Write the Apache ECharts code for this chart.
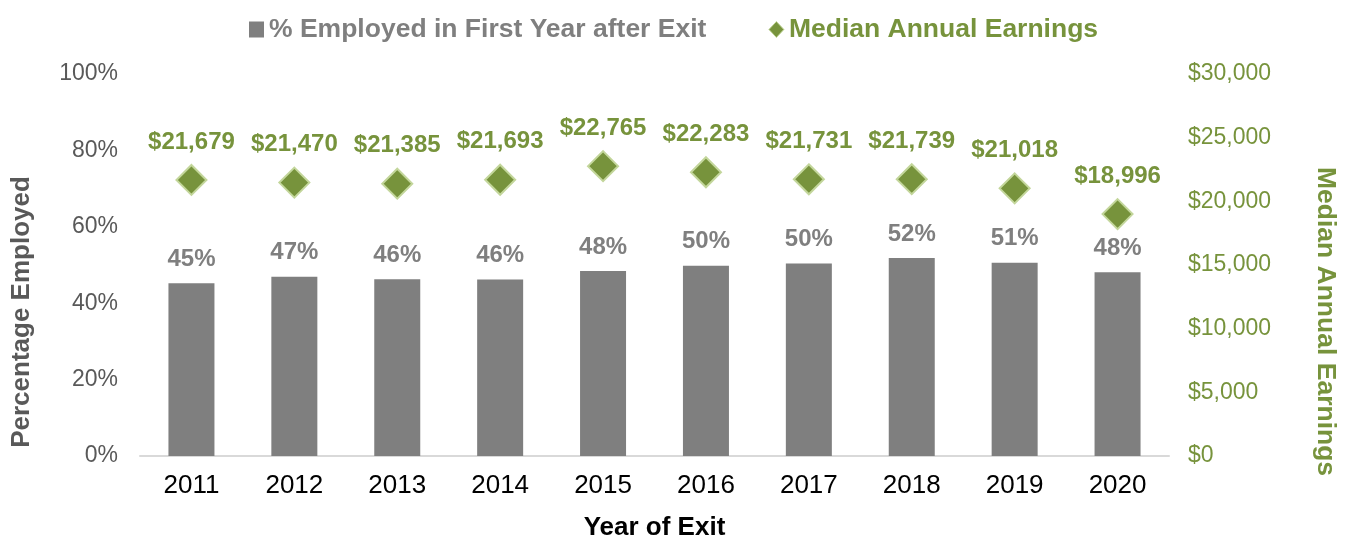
<!DOCTYPE html>
<html>
<head>
<meta charset="utf-8">
<style>
  html, body { margin: 0; padding: 0; background: #fff; }
  #chart { width: 1346px; height: 537px; }
</style>
<script src="https://cdn.jsdelivr.net/npm/echarts@6/dist/echarts.min.js"></script>
</head>
<body>
<div id="chart"></div>
<script>
// data
const years = ['2011', '2012', '2013', '2014', '2015', '2016', '2017', '2018', '2019', '2020'];
const pctEmployed = [45.2, 46.9, 46.3, 46.2, 48.4, 49.8, 50.4, 51.8, 50.6, 48.1];
const medianEarnings = [21679, 21470, 21385, 21693, 22765, 22283, 21731, 21739, 21018, 18996];

const GRAY = '#7f7f7f';
const DARK_GRAY = '#595959';
const GREEN = '#77933C';
const FONT = '"Liberation Sans", Arial, sans-serif';

function money(v) {
    return '$' + Number(v).toLocaleString('en-US');
}

const chart = echarts.init(document.getElementById('chart'));
chart.setOption({
    animation: false,
    textStyle: { fontFamily: FONT },
    legend: {
        left: 244,
        top: 11,
        itemWidth: 15,
        itemHeight: 16,
        itemGap: 62,
        data: [
            { name: '% Employed in First Year after Exit', icon: 'rect',
              textStyle: { color: GRAY } },
            { name: 'Median Annual Earnings', icon: 'diamond',
              itemStyle: { color: GREEN, borderColor: '#C3D69B', borderWidth: 1 },
              textStyle: { color: GREEN } }
        ],
        textStyle: { fontSize: 26.5, fontWeight: 'bold', fontFamily: FONT }
    },
    grid: { left: 140, right: 177, top: 74, bottom: 81, outerBoundsMode: 'none' },
    xAxis: {
        type: 'category',
        data: years,
        axisLine: { lineStyle: { color: '#d9d9d9', width: 2 } },
        axisTick: { show: false },
        axisLabel: { color: '#000', fontSize: 26, margin: 17, fontFamily: FONT },
        name: 'Year of Exit',
        nameLocation: 'middle',
        nameGap: 59,
        nameTextStyle: { color: '#000', fontSize: 26, fontWeight: 'bold', fontFamily: FONT }
    },
    yAxis: [
        {
            type: 'value',
            min: 0, max: 100, interval: 20,
            splitLine: { show: false },
            axisLine: { show: false },
            axisTick: { show: false },
            axisLabel: { formatter: '{value}%', color: DARK_GRAY, fontSize: 23, margin: 22, fontFamily: FONT },
            name: 'Percentage Employed',
            nameLocation: 'middle',
            nameGap: 105,
            nameTextStyle: { color: DARK_GRAY, fontSize: 26, fontWeight: 'bold', fontFamily: FONT,
                             padding: [0, 94, 0, 0] }
        },
        {
            type: 'value',
            min: 0, max: 30000, interval: 5000,
            splitLine: { show: false },
            axisLine: { show: false },
            axisTick: { show: false },
            axisLabel: { formatter: money, color: GREEN, fontSize: 23, margin: 19, fontFamily: FONT },
            name: 'Median Annual Earnings',
            nameLocation: 'middle',
            nameRotate: -90,
            nameGap: 143,
            nameTextStyle: { color: GREEN, fontSize: 26.5, fontWeight: 'bold', fontFamily: FONT,
                             padding: [0, 0, 0, 113] }
        }
    ],
    series: [
        {
            name: '% Employed in First Year after Exit',
            type: 'bar',
            yAxisIndex: 0,
            data: pctEmployed,
            barWidth: 46,
            itemStyle: { color: GRAY },
            label: {
                show: true,
                position: 'top',
                distance: 12,
                formatter: p => Math.round(p.value) + '%',
                color: GRAY,
                fontSize: 24,
                fontWeight: 'bold',
                fontFamily: FONT
            }
        },
        {
            name: 'Median Annual Earnings',
            type: 'scatter',
            yAxisIndex: 1,
            data: medianEarnings,
            symbol: 'diamond',
            symbolSize: [30, 30],
            itemStyle: { color: GREEN, opacity: 1, borderColor: '#C3D69B', borderWidth: 2 },
            label: {
                show: true,
                position: 'top',
                distance: 10,
                formatter: p => money(p.value),
                color: GREEN,
                fontSize: 24,
                fontWeight: 'bold',
                fontFamily: FONT
            }
        }
    ]
});
</script>
</body>
</html>
